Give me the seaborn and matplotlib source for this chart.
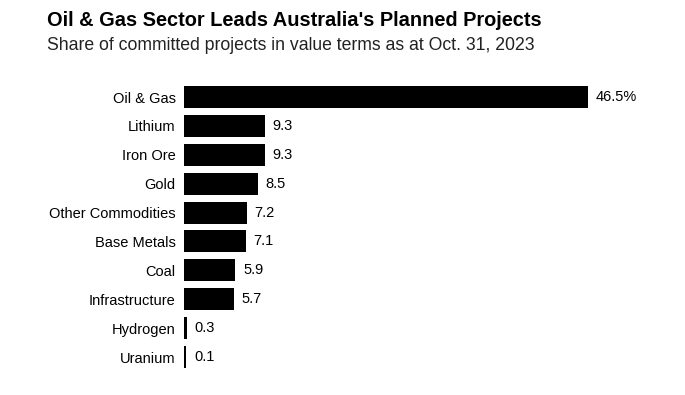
import matplotlib
matplotlib.use('Agg')
import matplotlib.pyplot as plt
import seaborn as sns
import pandas as pd

sectors = ['Oil & Gas', 'Lithium', 'Iron Ore', 'Gold', 'Other Commodities',
           'Base Metals', 'Coal', 'Infrastructure', 'Hydrogen', 'Uranium']
shares = [46.5, 9.3, 9.3, 8.5, 7.2, 7.1, 5.9, 5.7, 0.3, 0.1]
value_labels = ['46.5%', '9.3', '9.3', '8.5', '7.2', '7.1', '5.9', '5.7', '0.3', '0.1']

df = pd.DataFrame({'sector': sectors, 'share': shares})

sns.set_theme(style='white')
plt.rcParams['font.family'] = ['Liberation Sans', 'DejaVu Sans']

fig = plt.figure(figsize=(6.85, 3.95), dpi=100)
ax = fig.add_axes([184 / 685, 0.0595, 404 / 685, 0.7315])

sns.barplot(data=df, x='share', y='sector', color='black', saturation=1,
            width=0.76, linewidth=0, ax=ax)

# tiny bars still get a visible sliver
for p in ax.patches:
    if p.get_width() < 0.25:
        p.set_width(0.25)

for i, (v, lab) in enumerate(zip(shares, value_labels)):
    ax.text(max(v, 0.25) + 0.9, i, lab, va='center', ha='left', fontsize=10.5, color='black')

ax.set_xlim(0, 46.5)
ax.set_ylim(9.5, -0.5)
ax.set_xlabel('')
ax.set_ylabel('')
ax.set_xticks([])
ax.tick_params(axis='y', length=0, pad=6, labelsize=10.5, labelcolor='black')
for s in ax.spines.values():
    s.set_visible(False)

fig.text(47 / 685, 1 - 20 / 395, "Oil & Gas Sector Leads Australia's Planned Projects",
         fontsize=14.4, fontweight='bold', va='center', ha='left', color='black')
fig.text(47 / 685, 1 - 46 / 395, 'Share of committed projects in value terms as at Oct. 31, 2023',
         fontsize=12.7, va='center', ha='left', color='#222222')

fig.savefig('out.png', dpi=100)
